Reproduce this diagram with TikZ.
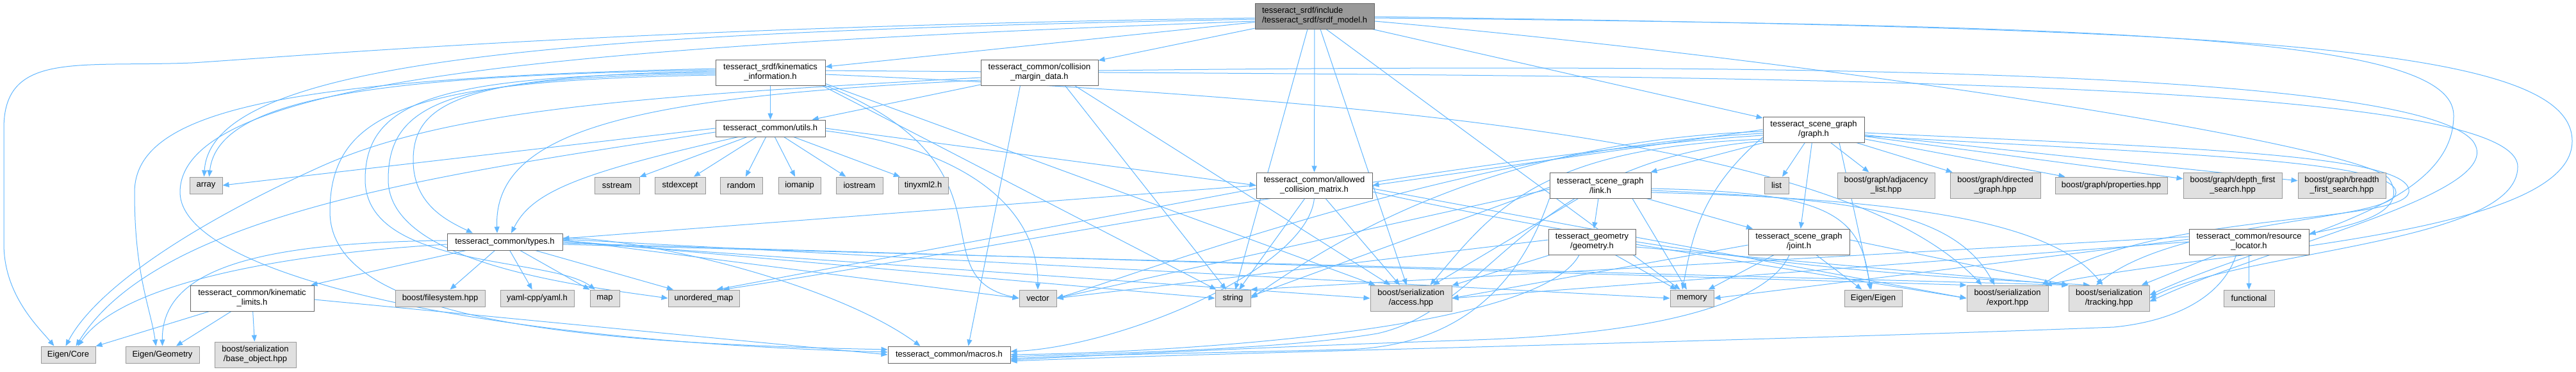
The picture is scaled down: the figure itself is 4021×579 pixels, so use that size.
\documentclass[tikz,border=0pt]{standalone}
\usepackage{fontspec}
\usetikzlibrary{arrows.meta}
\newfontfamily\lsans{Liberation Sans}
\newcommand\nfont{\lsans\fontsize{13}{15}\selectfont}
\definecolor{edgec}{HTML}{63B8FF}
\definecolor{bd}{HTML}{666666}
\definecolor{bdext}{HTML}{999999}
\definecolor{fillext}{HTML}{E0E0E0}
\definecolor{fillcur}{HTML}{999999}
\pgfdeclarelayer{bg}
\pgfsetlayers{bg,main}
\tikzset{
  nd/.style={draw=bd, fill=white, line width=1pt, inner sep=0pt, align=center, font=\nfont, text=black},
  ext/.style={nd, draw=bdext, fill=fillext},
  cur/.style={nd, fill=fillcur},
  lnk/.style={draw=edgec, line width=1pt, -{Triangle[length=10pt,width=8pt]}},
}
\begin{document}
\begin{tikzpicture}[x=1pt,y=-1pt]
\useasboundingbox (0,0) rectangle (4021,579);
% ---- nodes ----
\node[cur, align=left, minimum width=186, minimum height=40] (srdf) at (2052,25) {tesseract\_srdf/include\\/tesseract\_srdf/srdf\_model.h};
\node[nd, minimum width=171, minimum height=40] (kininfo) at (1202.5,113) {tesseract\_srdf/kinematics\\\_information.h};
\node[nd, minimum width=183, minimum height=40] (cmd) at (1622.5,113) {tesseract\_common/collision\\\_margin\_data.h};
\node[nd, minimum width=171, minimum height=26] (utils) at (1202.5,200) {tesseract\_common/utils.h};
\node[nd, minimum width=158, minimum height=40] (graph) at (2831,202) {tesseract\_scene\_graph\\/graph.h};
\node[nd, minimum width=181, minimum height=40] (acm) at (2051.5,289) {tesseract\_common/allowed\\\_collision\_matrix.h};
\node[nd, minimum width=158, minimum height=40] (link) at (2498,289) {tesseract\_scene\_graph\\/link.h};
\node[ext, minimum width=38, minimum height=26] (list) at (2773,289) {list};
\node[ext, minimum width=152, minimum height=40] (adj) at (2944,289) {boost/graph/adjacency\\\_list.hpp};
\node[ext, minimum width=141, minimum height=40] (dir) at (3114.5,289) {boost/graph/directed\\\_graph.hpp};
\node[ext, minimum width=175, minimum height=26] (props) at (3295.5,289) {boost/graph/properties.hpp};
\node[ext, minimum width=154, minimum height=40] (dfs) at (3485,289) {boost/graph/depth\_first\\\_search.hpp};
\node[ext, minimum width=137, minimum height=40] (bfs) at (3655.5,289) {boost/graph/breadth\\\_first\_search.hpp};
\node[nd, minimum width=136, minimum height=40] (geometry) at (2485,377) {tesseract\_geometry\\/geometry.h};
\node[nd, minimum width=158, minimum height=40] (joint) at (2808,377) {tesseract\_scene\_graph\\/joint.h};
\node[nd, minimum width=187, minimum height=40] (resource) at (3510.5,377) {tesseract\_common/resource\\\_locator.h};
\node[nd, minimum width=180, minimum height=26] (types) at (788,377) {tesseract\_common/types.h};
\node[nd, minimum width=193, minimum height=40] (kinlimits) at (393.5,465) {tesseract\_common/kinematic\\\_limits.h};
\node[ext, minimum width=51, minimum height=26] (array) at (321.5,289) {array};
\node[ext, minimum width=70, minimum height=26] (sstream) at (963,289) {sstream};
\node[ext, minimum width=79, minimum height=26] (stdexcept) at (1061.5,289) {stdexcept};
\node[ext, minimum width=66, minimum height=26] (random) at (1157,289) {random};
\node[ext, minimum width=66, minimum height=26] (iomanip) at (1248,289) {iomanip};
\node[ext, minimum width=73, minimum height=26] (iostream) at (1341.5,289) {iostream};
\node[ext, minimum width=78, minimum height=26] (tinyxml) at (1441,289) {tinyxml2.h};
\node[ext, minimum width=140, minimum height=26] (filesystem) at (687,465) {boost/filesystem.hpp};
\node[ext, minimum width=115, minimum height=26] (yaml) at (838.5,465) {yaml-cpp/yaml.h};
\node[ext, minimum width=46, minimum height=26] (map) at (944,465) {map};
\node[ext, minimum width=111, minimum height=26] (umap) at (1098.5,465) {unordered\_map};
\node[ext, minimum width=58, minimum height=26] (vector) at (1620,465) {vector};
\node[ext, minimum width=55, minimum height=26] (string) at (1924.5,465) {string};
\node[ext, minimum width=127, minimum height=40] (access) at (2202.5,465) {boost/serialization\\/access.hpp};
\node[ext, minimum width=68, minimum height=26] (memory) at (2641,465) {memory};
\node[ext, minimum width=90, minimum height=26] (eigeneigen) at (2924,465) {Eigen/Eigen};
\node[ext, minimum width=127, minimum height=40] (export) at (3133.5,465) {boost/serialization\\/export.hpp};
\node[ext, minimum width=126, minimum height=40] (tracking) at (3292,465) {boost/serialization\\/tracking.hpp};
\node[ext, minimum width=79, minimum height=26] (functional) at (3510.5,465) {functional};
\node[ext, minimum width=85, minimum height=26] (eigencore) at (106.5,553) {Eigen/Core};
\node[ext, minimum width=115, minimum height=26] (eigengeom) at (253.5,553) {Eigen/Geometry};
\node[ext, minimum width=127, minimum height=40] (baseobj) at (398.5,553) {boost/serialization\\/base\_object.hpp};
\node[nd, minimum width=191, minimum height=26] (macros) at (1481.5,553) {tesseract\_common/macros.h};
% ---- edges ----
\begin{pgfonlayer}{bg}
\fill[white] (0,0) rectangle (4021,579);
% srdf_model.h
\draw[lnk] (srdf) -- (kininfo);
\draw[lnk] (srdf) -- (cmd);
\draw[lnk] (srdf) -- (graph);
\draw[lnk] (srdf) -- (acm);
\draw[lnk] ([xshift=-11pt]srdf.south) -- (string);
\draw[lnk] ([xshift=9pt]srdf.south) -- (access);
\draw[lnk] ([xshift=18pt]srdf.south) -- (memory);
\draw[lnk] ([yshift=-3pt]srdf.west) .. controls (1000,42) and (500,85) .. (300,98) .. controls (120,105) and (6,80) .. (6,200) -- (6,380) .. controls (6,460) and (60,510) .. ([xshift=-22pt]eigencore.north);
\draw[lnk] ([yshift=-5pt]srdf.west) .. controls (900,50) and (330,90) .. ([xshift=-3pt]array.north);
\draw[lnk] ([yshift=-8pt]srdf.west) .. controls (900,72) and (281,120) .. (281,300) .. controls (282,420) and (700,530) .. ([yshift=4pt]macros.west);
\draw[lnk] ([yshift=-3pt]srdf.east) .. controls (3300,40) and (3830,55) .. (3830,180) .. controls (3830,330) and (3550,370) .. ([yshift=5pt]tracking.east);
\draw[lnk] ([yshift=-1pt]srdf.east) .. controls (3500,45) and (4015,70) .. (4015,220) .. controls (4015,370) and (3450,390) .. ([xshift=-5pt]export.north east);
\draw[lnk] ([yshift=-8pt]srdf.east) .. controls (2900,100) and (3700,230) .. (3730,280) .. controls (3760,330) and (3680,350) .. ([yshift=-8pt]resource.north east);
% kinematics_information.h
\draw[lnk] (kininfo) -- (utils);
\draw[lnk] ([yshift=2pt]kininfo.west) .. controls (720,118) and (645,160) .. (645,250) .. controls (645,320) and (700,345) .. ([xshift=-50pt]types.north);
\draw[lnk] ([yshift=4pt]kininfo.west) .. controls (600,118) and (340,150) .. ([xshift=5pt]array.north);
\draw[lnk] ([yshift=6pt]kininfo.west) .. controls (450,122) and (210,170) .. (210,300) .. controls (210,430) and (235,480) .. ([xshift=-10pt]eigengeom.north);
\draw[lnk] (kininfo.west) .. controls (700,118) and (570,150) .. (570,280) .. controls (570,420) and (860,400) .. ([xshift=-15pt]map.north);
\draw[lnk] ([yshift=-2pt]kininfo.west) .. controls (700,120) and (606,160) .. (606,280) .. controls (606,410) and (900,445) .. (umap.west);
\draw[lnk] ([yshift=-4pt]kininfo.west) .. controls (650,125) and (515,170) .. (515,330) .. controls (515,500) and (900,535) .. ([yshift=8pt]macros.west);
\draw[lnk] (kininfo.south east) .. controls (1600,260) and (1430,430) .. (vector.west);
\draw[lnk] ([xshift=-5pt]kininfo.south east) -- (string);
\draw[lnk] ([yshift=3pt]kininfo.south east) -- (access);
\draw[lnk] ([yshift=-3pt]kininfo.east) .. controls (2300,160) and (2900,240) .. ([xshift=-40pt]export.north);
\draw[lnk] ([yshift=3pt]kininfo.east) .. controls (2500,120) and (3930,110) .. (3930,260) .. controls (3930,380) and (3500,390) .. (tracking.east);
% collision_margin_data.h
\draw[lnk] (cmd) -- (utils);
\draw[lnk] ([yshift=-8pt]cmd.west) .. controls (1000,150) and (700,170) .. (500,260) .. controls (300,350) and (150,450) .. ([xshift=-4pt]eigencore.north);
\draw[lnk] ([yshift=-12pt]cmd.west) .. controls (1000,150) and (770,200) .. ([xshift=-12pt]types.north);
\draw[lnk] ([xshift=-30pt]cmd.south) -- ([xshift=30pt]macros.north);
\draw[lnk] ([xshift=40pt]cmd.south) -- (string);
\draw[lnk] ([xshift=55pt]cmd.south) -- (access);
\draw[lnk] ([yshift=3pt]cmd.east) .. controls (2600,100) and (3760,100) .. (3860,220) .. controls (3920,300) and (3550,380) .. ([yshift=-5pt]tracking.east);
% utils.h
\draw[lnk] (utils) -- (sstream);
\draw[lnk] (utils) -- (stdexcept);
\draw[lnk] (utils) -- (random);
\draw[lnk] (utils) -- (iomanip);
\draw[lnk] (utils) -- (iostream);
\draw[lnk] (utils) -- (tinyxml);
\draw[lnk] (utils.west) -- (array.east);
\draw[lnk] ([yshift=-6pt]utils.west) .. controls (700,270) and (250,330) .. ([xshift=12pt]eigencore.north);
\draw[lnk] ([xshift=-50pt]utils.south) .. controls (900,270) and (830,300) .. ([xshift=10pt]types.north);
\draw[lnk] (utils.east) -- (acm.west);
\draw[lnk] ([yshift=-4pt]utils.east) .. controls (1500,230) and (1620,320) .. (vector.north);
% types.h
\draw[lnk] (types) -- (kinlimits);
\draw[lnk] (types) -- (filesystem);
\draw[lnk] (types) -- (yaml);
\draw[lnk] (types) -- (map);
\draw[lnk] ([yshift=2pt]types.west) .. controls (400,378) and (252,420) .. (eigengeom.north);
\draw[lnk] ([yshift=-4pt]types.west) .. controls (450,395) and (190,440) .. ([xshift=15pt]eigencore.north);
\draw[lnk] (types) -- (umap);
\draw[lnk] ([yshift=3pt]types.east) -- (vector.west);
\draw[lnk] ([yshift=2pt]types.east) -- (string.west);
\draw[lnk] ([yshift=4pt]types.east) -- (memory.west);
\draw[lnk] (types.east) -- (access.west);
\draw[lnk] ([yshift=-2pt]types.east) -- (export.north west);
\draw[lnk] ([yshift=-4pt]types.east) -- (tracking.north west);
\draw[lnk] ([yshift=6pt]types.east) .. controls (1000,370) and (1300,440) .. ([xshift=-45pt]macros.north);
% kinematic_limits.h
\draw[lnk] (kinlimits) -- (eigencore);
\draw[lnk] (kinlimits) -- (eigengeom);
\draw[lnk] (kinlimits) -- (baseobj);
\draw[lnk] ([yshift=-2pt]kinlimits.east) -- (macros.west);
% allowed_collision_matrix.h
\draw[lnk] (acm.west) -- ([yshift=5pt]types.east);
\draw[lnk] ([yshift=-5pt]acm.west) -- ([xshift=20pt]umap.north);
\draw[lnk] (acm) -- (string);
\draw[lnk] (acm) -- (access);
\draw[lnk] ([yshift=-5pt]acm.east) -- (export.west);
\draw[lnk] ([yshift=-10pt]acm.east) .. controls (2700,420) and (3000,430) .. ([xshift=-30pt]tracking.north);
\draw[lnk] (acm.south) .. controls (2040,420) and (1750,540) .. ([yshift=5pt]macros.east);
% graph.h
\draw[lnk] (graph) -- (link);
\draw[lnk] (graph) -- (joint);
\draw[lnk] (graph) -- (list);
\draw[lnk] (graph) -- (adj);
\draw[lnk] (graph) -- (dir);
\draw[lnk] (graph) -- (props);
\draw[lnk] (graph) -- (dfs);
\draw[lnk] (graph) -- (bfs);
\draw[lnk] (graph.west) -- (acm.east);
\draw[lnk] ([yshift=-3pt]graph.west) .. controls (2300,220) and (2050,400) .. (string.east);
\draw[lnk] ([yshift=-6pt]graph.west) .. controls (2300,230) and (1800,420) .. (vector.east);
\draw[lnk] ([yshift=-9pt]graph.west) .. controls (2300,240) and (1600,380) .. ([xshift=30pt]umap.north);
\draw[lnk] ([yshift=-12pt]graph.west) .. controls (2650,300) and (2640,380) .. ([xshift=-15pt]memory.north);
\draw[lnk] ([xshift=40pt]graph.south) -- (eigeneigen);
\draw[lnk] ([yshift=-15pt]graph.west) .. controls (2400,230) and (2330,330) .. ([xshift=30pt]access.north);
\draw[lnk] ([yshift=-5pt]graph.east) .. controls (3400,230) and (3770,240) .. (3760,300) .. controls (3750,350) and (3350,330) .. ([xshift=-10pt]export.north east);
\draw[lnk] ([yshift=-10pt]graph.east) .. controls (3400,240) and (3740,250) .. (3740,300) .. controls (3740,345) and (3400,340) .. ([xshift=-20pt]tracking.north);
\draw[lnk] ([yshift=-18pt]graph.west) .. controls (2380,250) and (2330,480) .. (2150,520) .. controls (2000,545) and (1750,550) .. ([yshift=-3pt]macros.east);
% link.h
\draw[lnk] (link) -- (geometry);
\draw[lnk] (link) -- (joint);
\draw[lnk] ([xshift=50pt]link.south) -- (memory);
\draw[lnk] ([yshift=-3pt]link.west) -- ([yshift=3pt]string.east);
\draw[lnk] ([yshift=-6pt]link.west) -- (vector.east);
\draw[lnk] (link) -- (access);
\draw[lnk] ([yshift=-5pt]link.east) .. controls (2850,300) and (2905,330) .. ([xshift=-5pt]eigeneigen.north);
\draw[lnk] ([yshift=-8pt]link.east) .. controls (2900,310) and (3050,330) .. ([xshift=-20pt]export.north);
\draw[lnk] ([yshift=-11pt]link.east) .. controls (2950,310) and (3200,340) .. ([xshift=-10pt]tracking.north);
\draw[lnk] (link.south west) .. controls (2380,420) and (2300,540) .. (2100,545) .. controls (1900,550) and (1700,553) .. ([yshift=-6pt]macros.east);
% geometry.h
\draw[lnk] (geometry) -- (memory);
\draw[lnk] (geometry) -- (access);
\draw[lnk] ([yshift=3pt]geometry.west) -- (vector.east);
\draw[lnk] ([yshift=-4pt]geometry.east) -- (export.west);
\draw[lnk] ([yshift=-8pt]geometry.east) -- (tracking.north west);
\draw[lnk] ([xshift=-20pt]geometry.south) .. controls (2400,520) and (1800,550) .. (macros.east);
% joint.h
\draw[lnk] (joint) -- (memory);
\draw[lnk] (joint) -- (eigeneigen);
\draw[lnk] ([yshift=-5pt]joint.west) -- (access.east);
\draw[lnk] ([yshift=3pt]joint.east) -- (tracking.north west);
\draw[lnk] ([xshift=-15pt]joint.south) .. controls (2760,470) and (2600,520) .. (2300,530) .. controls (2000,540) and (1800,550) .. ([yshift=-8pt]macros.east);
% resource_locator.h
\draw[lnk] (resource) -- (functional);
\draw[lnk] (resource) -- (tracking);
\draw[lnk] ([yshift=4pt]resource.west) -- (memory.east);
\draw[lnk] ([yshift=8pt]resource.west) -- (string.north east);
\draw[lnk] (resource.west) -- (access.east);
\draw[lnk] ([xshift=-20pt]resource.south) .. controls (3470,460) and (3400,500) .. (3300,510) .. controls (2800,530) and (1900,550) .. ([yshift=-10pt]macros.east);
\end{pgfonlayer}
\end{tikzpicture}
\end{document}
